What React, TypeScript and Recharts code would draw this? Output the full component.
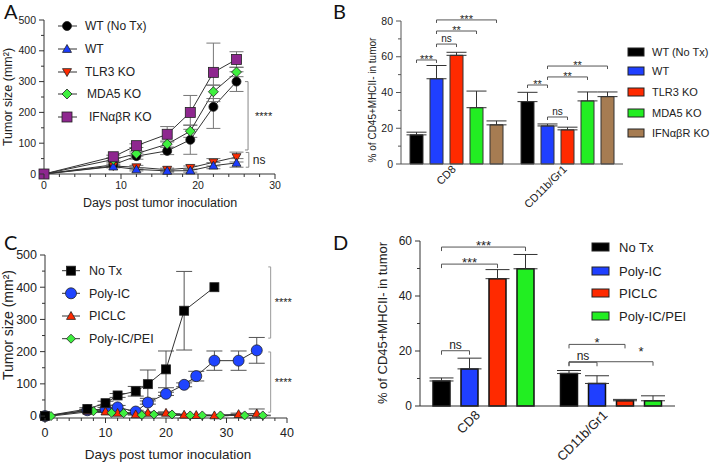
import React from "react";
import { LineChart, Line, BarChart, Bar, XAxis, YAxis, ErrorBar, ReferenceLine } from "recharts";

const FONT = "'Liberation Sans', Arial, Helvetica, sans-serif";
const LETTER_FONT = "Lato, 'Liberation Sans', sans-serif";

// ---- A: tumor growth by genotype
const A_NAMES = ["WT (No Tx)", "WT", "TLR3 KO", "MDA5 KO", "IFNαβR KO"];
const A_DAYS = [0, 9, 12, 16, 19, 22, 25];
const A_WT_NOTX = [0, 30, 58, 75, 111, 218, 300];
const A_WT_NOTX_ERR = [0, 6, 10, 12, 47, 70, 32];
const A_WT = [0, 24, 15, 10, 11, 27, 36];
const A_WT_ERR = [0, 4, 5, 4, 5, 10, 14];
const A_TLR3 = [0, 26, 22, 14, 20, 38, 55];
const A_TLR3_ERR = [0, 4, 6, 5, 6, 12, 16];
const A_MDA5 = [0, 47, 66, 97, 139, 267, 331];
const A_MDA5_ERR = [0, 5, 8, 10, 20, 22, 15];
const A_IFN = [0, 56, 92, 129, 200, 330, 372];
const A_IFN_ERR = [0, 5, 6, 25, 55, 95, 25];
const A_X_TICKS = [0, 10, 20, 30];
const A_Y_TICKS = [0, 100, 200, 300, 400, 500];

// ---- B: infiltrates by genotype
const B_GROUPS = ["CD8", "CD11b/Gr1"];
const B_NAMES = ["WT (No Tx)", "WT", "TLR3 KO", "MDA5 KO", "IFNαβR KO"];
const B_WT_NOTX = [16.3, 34.9];
const B_WT_NOTX_ERR = [1.5, 5.2];
const B_WT = [47.7, 21.3];
const B_WT_ERR = [7.4, 1.1];
const B_TLR3 = [60.8, 19.1];
const B_TLR3_ERR = [1.7, 1.5];
const B_MDA5 = [31.5, 35.3];
const B_MDA5_ERR = [9.3, 5.0];
const B_IFN = [21.9, 37.7];
const B_IFN_ERR = [2.2, 2.6];
const B_Y_TICKS = [0, 20, 40, 60, 80];

// ---- C: tumor growth by treatment
const C_NAMES = ["No Tx", "Poly-IC", "PICLC", "Poly-IC/PEI"];
const C_NOTX_DAYS = [0, 7, 10, 12, 15, 17, 20, 23, 28];
const C_NOTX = [0, 22, 40, 64, 77, 99, 145, 327, 400];
const C_NOTX_ERR = [0, 4, 6, 6, 15, 44, 57, 122, 0];
const C_POLY_DAYS = [0, 7, 10, 12, 15, 17, 20, 23, 25, 28, 32, 35];
const C_POLY = [0, 18, 22, 27, 14, 42, 69, 97, 124, 172, 172, 204];
const C_POLY_ERR = [0, 3, 5, 6, 4, 5, 5, 6, 15, 30, 30, 40];
const C_PICLC_DAYS = [0, 7, 10, 12, 15, 17, 20, 23, 25, 28, 32, 35];
const C_PICLC = [0, 16, 14, 10, 5, 10, 10, 4, 3, 2, 6, 8];
const C_PICLC_ERR = [0, 3, 3, 3, 2, 3, 3, 2, 1, 1, 3, 14];
const C_PEI_DAYS = [1, 8, 11, 13, 16, 18, 21, 24, 26, 29, 33, 36];
const C_PEI = [0, 15, 10, 9, 3, 5, 5, 2, 2, 2, 2, 2];
const C_PEI_ERR = [0, 3, 3, 2, 1, 2, 2, 1, 1, 1, 1, 1];
const C_X_TICKS = [0, 10, 20, 30, 40];
const C_Y_TICKS = [0, 100, 200, 300, 400, 500];

// ---- D: infiltrates by treatment
const D_GROUPS = ["CD8", "CD11b/Gr1"];
const D_NAMES = ["No Tx", "Poly-IC", "PICLC", "Poly-IC/PEI"];
const D_NOTX = [9.1, 11.8];
const D_NOTX_ERR = [1.1, 1.1];
const D_POLY = [13.5, 8.2];
const D_POLY_ERR = [3.9, 2.8];
const D_PICLC = [46.3, 1.9];
const D_PICLC_ERR = [3.3, 0.5];
const D_PEI = [49.9, 1.9];
const D_PEI_ERR = [5.2, 1.8];
const D_Y_TICKS = [0, 20, 40, 60];

// significance annotations
const A_BRACKETS = [
  { x: 26.5, y1: 300, y2: 78, label: "****", offset: 7, size: 11 },
  { x: 26.6, y1: 70, y2: 22, label: "ns", offset: 4, size: 12 },
];
const C_BRACKETS = [
  { x: 37.3, y1: 463, y2: 242, label: "****", offset: 4, size: 11 },
  { x: 37.3, y1: 199, y2: 12, label: "****", offset: 4, size: 11 },
];
const B_BRACKETS = [
  { g: 0, from: 0, to: 1, level: 58.2, label: "***" },
  { g: 0, from: 1, to: 2, level: 67.1, label: "ns" },
  { g: 0, from: 1, to: 3, level: 74.4, label: "**" },
  { g: 0, from: 1, to: 4, level: 80.6, label: "***" },
  { g: 1, from: 0, to: 1, level: 44.2, label: "**" },
  { g: 1, from: 1, to: 2, level: 26.3, label: "ns" },
  { g: 1, from: 1, to: 3, level: 48.7, label: "**" },
  { g: 1, from: 1, to: 4, level: 54.8, label: "**" },
];
const D_BRACKETS = [
  { g: 0, from: 0, to: 2, level: 51.6, label: "***" },
  { g: 0, from: 0, to: 3, level: 57.8, label: "***" },
  { g: 0, from: 0, to: 1, level: 20.1, label: "ns" },
  { g: 1, from: 0, to: 2, level: 22.4, label: "*" },
  { g: 1, from: 0, to: 1, level: 15.9, label: "ns" },
  { g: 1, from: 0, to: 3, level: 16.1, label: "*", dx: 30, dy: -9 },
];

const AXIS = "#333";
const TXT = "#222";

const range = (a: number, b: number, step: number) => {
  const out: number[] = [];
  for (let v = a; v <= b + 1e-9; v += step) out.push(Math.round(v * 100) / 100);
  return out;
};
const pts = (xs: number[], ys: number[], es: number[]) => xs.map((x, i) => ({ x, y: ys[i], e: es[i] }));

function Marker({ shape, cx, cy, size, fill }: any) {
  const s = size / 2;
  const common = { fill, stroke: "#222", strokeWidth: 0.8 };
  if (shape === "circle") return <circle cx={cx} cy={cy} r={s} {...common} />;
  if (shape === "square") return <rect x={cx - s} y={cy - s} width={size} height={size} {...common} />;
  if (shape === "up")
    return <polygon points={`${cx},${cy - s} ${cx + s},${cy + s * 0.75} ${cx - s},${cy + s * 0.75}`} {...common} />;
  if (shape === "down")
    return <polygon points={`${cx - s},${cy - s * 0.75} ${cx + s},${cy - s * 0.75} ${cx},${cy + s}`} {...common} />;
  return <polygon points={`${cx},${cy - s} ${cx + s},${cy} ${cx},${cy + s} ${cx - s},${cy}`} {...common} />;
}

const dotFn = (st: any) => (p: any) => {
  if (p.cx == null || p.cy == null) return <g key={`n${p.index}`} />;
  return <Marker key={`d${p.index}`} shape={st.shape} cx={p.cx} cy={p.cy} size={st.size} fill={st.color} />;
};

const xTick = (majors: number[], fs: number, gap: number, color: string) => (p: any) => {
  const v = p.payload.value;
  const major = majors.includes(v);
  const len = major ? 5 : 3;
  return (
    <g>
      <line x1={p.x} x2={p.x} y1={p.y} y2={p.y + len} stroke={color} strokeWidth={1} />
      {major && (
        <text x={p.x} y={p.y + gap} dy="0.71em" textAnchor="middle" fontSize={fs} fill={TXT} fontFamily={FONT}>
          {v}
        </text>
      )}
    </g>
  );
};

const yTick = (majors: number[], fs: number, color: string) => (p: any) => {
  const v = p.payload.value;
  const major = majors.includes(v);
  const len = major ? 5 : 3;
  return (
    <g>
      <line x1={p.x - len} x2={p.x} y1={p.y} y2={p.y} stroke={color} strokeWidth={1} />
      {major && (
        <text x={p.x - 8} y={p.y} dy="0.35em" textAnchor="end" fontSize={fs} fill={TXT} fontFamily={FONT}>
          {v}
        </text>
      )}
    </g>
  );
};

const catTick = (fs: number, dx: number, dy: number) => (p: any) => (
  <text
    transform={`translate(${p.x + dx},${p.y + dy}) rotate(-45)`}
    textAnchor="end"
    fontSize={fs}
    fill={TXT}
    fontFamily={FONT}
  >
    {p.payload.value}
  </text>
);

function bracketRefs(list: any[], color: string) {
  return list.flatMap((b, i) => [
    <ReferenceLine
      key={`v${i}`}
      segment={[{ x: b.x, y: b.y1 }, { x: b.x, y: b.y2 }]}
      stroke={color}
      strokeWidth={1}
      label={{ value: b.label, position: "right", offset: b.offset, fontSize: b.size, fill: TXT, fontFamily: FONT }}
    />,
    <ReferenceLine key={`t${i}`} segment={[{ x: b.x - 0.4, y: b.y1 }, { x: b.x, y: b.y1 }]} stroke={color} />,
    <ReferenceLine key={`b${i}`} segment={[{ x: b.x - 0.4, y: b.y2 }, { x: b.x, y: b.y2 }]} stroke={color} />,
  ]);
}

// ---------- Panel A
const A_STYLE = [
  { color: "#000000", shape: "circle", size: 9 },
  { color: "#1b3cff", shape: "up", size: 9 },
  { color: "#ff2a00", shape: "down", size: 9 },
  { color: "#3ef03e", shape: "diamond", size: 10 },
  { color: "#8e278f", shape: "square", size: 10 },
];
const A_SERIES = [A_WT_NOTX, A_WT, A_TLR3, A_MDA5, A_IFN];
const A_ERRS = [A_WT_NOTX_ERR, A_WT_ERR, A_TLR3_ERR, A_MDA5_ERR, A_IFN_ERR];
const A_ORDER = [0, 2, 1, 3, 4];

function PanelA() {
  const W = 360, H = 230;
  const legY = [26, 49, 72, 94, 117];
  const legX = [85, 85, 85, 87, 89];
  return (
    <div style={{ position: "absolute", left: 0, top: 0, width: W, height: H }}>
      <LineChart width={W} height={H} margin={{ top: 20, right: 85, bottom: 36, left: 4 }}>
        <XAxis
          type="number"
          dataKey="x"
          domain={[0, 30]}
          ticks={range(0, 30, 2)}
          interval={0}
          tickSize={0}
          tickMargin={0}
          tickLine={false}
          tick={xTick(A_X_TICKS, 10.5, 8, AXIS)}
          height={20}
          stroke={AXIS}
        />
        <YAxis
          type="number"
          domain={[0, 500]}
          ticks={range(0, 500, 50)}
          interval={0}
          tickSize={0}
          tickMargin={0}
          tickLine={false}
          tick={yTick(A_Y_TICKS, 10.5, AXIS)}
          width={40}
          stroke={AXIS}
        />
        {bracketRefs(A_BRACKETS, "#888")}
        {A_ORDER.map((i) => (
          <Line
            key={A_NAMES[i]}
            data={pts(A_DAYS, A_SERIES[i], A_ERRS[i])}
            dataKey="y"
            stroke="#333"
            strokeWidth={1}
            dot={dotFn(A_STYLE[i])}
            activeDot={false}
            isAnimationActive={false}
          >
            <ErrorBar dataKey="e" width={7} stroke="#777" strokeWidth={1} direction="y" />
          </Line>
        ))}
      </LineChart>
      <svg width={W} height={H} style={{ position: "absolute", left: 0, top: 0, pointerEvents: "none" }} fontFamily={FONT}>
        <text transform="translate(12,97) rotate(-90)" textAnchor="middle" fontSize={12.5} fill={TXT}>
          Tumor size (mm²)
        </text>
        <text x={160} y={207} textAnchor="middle" fontSize={12.5} fill={TXT}>
          Days post tumor inoculation
        </text>
        {A_NAMES.map((n, i) => (
          <g key={n}>
            <line x1={58} x2={77} y1={legY[i]} y2={legY[i]} stroke="#333" />
            <Marker shape={A_STYLE[i].shape} cx={67} cy={legY[i]} size={A_STYLE[i].size} fill={A_STYLE[i].color} />
            <text x={legX[i]} y={legY[i]} dy="0.35em" fontSize={12} fill={TXT}>
              {n}
            </text>
          </g>
        ))}
      </svg>
    </div>
  );
}

// ---------- Panel C
const C_STYLE = [
  { color: "#000000", shape: "square", size: 9 },
  { color: "#1f44ff", shape: "circle", size: 11 },
  { color: "#ff2a00", shape: "up", size: 9 },
  { color: "#3ef03e", shape: "diamond", size: 9 },
];
const C_SERIES = [
  pts(C_NOTX_DAYS, C_NOTX, C_NOTX_ERR),
  pts(C_POLY_DAYS, C_POLY, C_POLY_ERR),
  pts(C_PICLC_DAYS, C_PICLC, C_PICLC_ERR),
  pts(C_PEI_DAYS, C_PEI, C_PEI_ERR),
];
const C_ORDER = [1, 2, 3, 0];

function PanelC() {
  const W = 360, H = 233;
  const legY = [40.7, 63.3, 86, 108.7];
  return (
    <div style={{ position: "absolute", left: 0, top: 230, width: W, height: H }}>
      <LineChart width={W} height={H} margin={{ top: 25, right: 73, bottom: 25, left: 5 }}>
        <XAxis
          type="number"
          dataKey="x"
          domain={[0, 40]}
          ticks={range(0, 40, 2)}
          interval={0}
          tickSize={0}
          tickMargin={0}
          tickLine={false}
          tick={xTick(C_X_TICKS, 12.5, 10, AXIS)}
          height={20}
          stroke={AXIS}
        />
        <YAxis
          type="number"
          domain={[0, 500]}
          ticks={range(0, 500, 50)}
          interval={0}
          tickSize={0}
          tickMargin={0}
          tickLine={false}
          tick={yTick(C_Y_TICKS, 12.5, AXIS)}
          width={40}
          stroke={AXIS}
        />
        {bracketRefs(C_BRACKETS, "#999")}
        {C_ORDER.map((i) => (
          <Line
            key={C_NAMES[i]}
            data={C_SERIES[i]}
            dataKey="y"
            stroke="#333"
            strokeWidth={1}
            dot={dotFn(C_STYLE[i])}
            activeDot={false}
            isAnimationActive={false}
          >
            <ErrorBar dataKey="e" width={8} stroke="#555" strokeWidth={1} direction="y" />
          </Line>
        ))}
      </LineChart>
      <svg width={W} height={H} style={{ position: "absolute", left: 0, top: 0, pointerEvents: "none" }} fontFamily={FONT}>
        <text transform="translate(13,95) rotate(-90)" textAnchor="middle" fontSize={14} fill={TXT}>
          Tumor size (mm²)
        </text>
        <text x={168} y={229} textAnchor="middle" fontSize={13.5} fill={TXT}>
          Days post tumor inoculation
        </text>
        {C_NAMES.map((n, i) => (
          <g key={n}>
            <line x1={62} x2={80} y1={legY[i]} y2={legY[i]} stroke="#333" />
            <Marker shape={C_STYLE[i].shape} cx={71} cy={legY[i]} size={C_STYLE[i].size} fill={C_STYLE[i].color} />
            <text x={89} y={legY[i]} dy="0.35em" fontSize={12.5} fill={TXT}>
              {n}
            </text>
          </g>
        ))}
      </svg>
    </div>
  );
}

// ---------- grouped bars (B, D)
function barRows(groups: string[], series: number[][], errs: number[][]) {
  return groups.map((g, gi) => {
    const row: any = { g };
    series.forEach((s, si) => {
      row["v" + si] = s[gi];
      row["e" + si] = [0, errs[si][gi]];
    });
    return row;
  });
}

function BarPanel(props: any) {
  const { W, H, left, top, plot, yMax, yStep, majors, groups, names, series, errs, colors, barSize, barGap,
    brackets, tickFs, labelFs, bracketFs, tick, yLabel, legend, catDx, catDy, catFs, axisColor, barStroke, capW } = props;
  const plotW = W - plot.left - plot.right;
  const plotH = H - plot.top - plot.bottom;
  const band = plotW / groups.length;
  const sum = names.length * barSize + (names.length - 1) * barGap;
  const off = Math.floor((band - sum) / 2);
  const cx = (g: number, i: number) => plot.left + g * band + off + i * (barSize + barGap) + barSize / 2;
  const cy = (v: number) => plot.top + plotH * (1 - v / yMax);
  const rows = barRows(groups, series, errs);
  return (
    <div style={{ position: "absolute", left, top, width: W, height: H }}>
      <BarChart
        width={W}
        height={H}
        data={rows}
        barGap={barGap}
        margin={{ top: plot.top, right: plot.right, bottom: plot.bottom - 20, left: plot.left - 36 }}
      >
        <XAxis
          dataKey="g"
          type="category"
          interval={0}
          tickSize={0}
          tickMargin={0}
          tickLine={false}
          tick={catTick(catFs, catDx, catDy)}
          height={20}
          stroke={axisColor}
        />
        <YAxis
          type="number"
          domain={[0, yMax]}
          ticks={range(0, yMax, yStep)}
          interval={0}
          tickSize={0}
          tickMargin={0}
          tickLine={false}
          tick={yTick(majors, tickFs, axisColor)}
          width={36}
          stroke={axisColor}
        />
        {names.map((n: string, si: number) => (
          <Bar
            key={n}
            dataKey={"v" + si}
            fill={colors[si]}
            stroke={barStroke.color}
            strokeWidth={barStroke.width}
            barSize={barSize}
            isAnimationActive={false}
          >
            <ErrorBar dataKey={"e" + si} width={capW} stroke="#333" strokeWidth={1} direction="y" />
          </Bar>
        ))}
      </BarChart>
      <svg width={W} height={H} style={{ position: "absolute", left: 0, top: 0, pointerEvents: "none", overflow: "visible" }} fontFamily={FONT}>
        <text transform={`translate(${yLabel.x},${yLabel.y}) rotate(-90)`} textAnchor="middle" fontSize={labelFs} fill={TXT}>
          % of CD45+MHCII- in tumor
        </text>
        {brackets.map((b: any, i: number) => {
          const x1 = cx(b.g, b.from);
          const x2 = cx(b.g, b.to);
          const y = cy(b.level);
          const star = b.label !== "ns";
          return (
            <g key={i}>
              <path d={`M${x1},${y + tick} L${x1},${y} L${x2},${y} L${x2},${y + tick}`} fill="none" stroke="#555" strokeWidth={1} />
              <text
                x={(x1 + x2) / 2 + (b.dx || 0)}
                y={y + (star ? 3 : -2) + (b.dy || 0)}
                textAnchor="middle"
                fontSize={star ? bracketFs + 1 : bracketFs}
                fill={TXT}
              >
                {b.label}
              </text>
            </g>
          );
        })}
        {names.map((n: string, i: number) => (
          <g key={n}>
            <rect x={legend.x} y={legend.ys[i] - legend.h / 2} width={legend.w} height={legend.h} fill={colors[i]} stroke="#222" strokeWidth={1} />
            <text x={legend.tx} y={legend.ys[i]} dy="0.35em" fontSize={legend.fs} fill={TXT}>
              {n}
            </text>
          </g>
        ))}
      </svg>
    </div>
  );
}

export default function App() {
  return (
    <div style={{ position: "absolute", left: 0, top: 0, width: 713, height: 463, background: "#fff", fontFamily: FONT, overflow: "hidden" }}>
      <PanelA />
      <BarPanel
        W={353}
        H={230}
        left={360}
        top={0}
        plot={{ left: 41, right: 90, top: 21, bottom: 66 }}
        yMax={80}
        yStep={10}
        majors={B_Y_TICKS}
        groups={B_GROUPS}
        names={B_NAMES}
        series={[B_WT_NOTX, B_WT, B_TLR3, B_MDA5, B_IFN]}
        errs={[B_WT_NOTX_ERR, B_WT_ERR, B_TLR3_ERR, B_MDA5_ERR, B_IFN_ERR]}
        colors={["#000000", "#1f3fff", "#ff2a00", "#22ee22", "#a67c52"]}
        barSize={13}
        barGap={7}
        brackets={B_BRACKETS}
        tickFs={10.5}
        labelFs={10}
        bracketFs={10}
        tick={3}
        yLabel={{ x: 16, y: 100 }}
        legend={{ x: 268, w: 16, h: 8, tx: 292, fs: 11, ys: [52, 71, 92, 113, 133] }}
        catDx={0}
        catDy={6}
        catFs={11}
        axisColor="#555"
        barStroke={{ color: "#333", width: 1 }}
        capW={10}
      />
      <PanelC />
      <BarPanel
        W={353}
        H={233}
        left={360}
        top={230}
        plot={{ left: 60, right: 38, top: 11, bottom: 57 }}
        yMax={60}
        yStep={10}
        majors={D_Y_TICKS}
        groups={D_GROUPS}
        names={D_NAMES}
        series={[D_NOTX, D_POLY, D_PICLC, D_PEI]}
        errs={[D_NOTX_ERR, D_POLY_ERR, D_PICLC_ERR, D_PEI_ERR]}
        colors={["#000000", "#1f3fff", "#ff2a00", "#22ee22"]}
        barSize={17}
        barGap={11}
        brackets={D_BRACKETS}
        tickFs={12}
        labelFs={13}
        bracketFs={12}
        tick={4}
        yLabel={{ x: 27, y: 93 }}
        legend={{ x: 232, w: 17, h: 8, tx: 259, fs: 13, ys: [17, 41, 63, 86] }}
        catDx={-3}
        catDy={10}
        catFs={13}
        axisColor="#333"
        barStroke={{ color: "#111", width: 1.5 }}
        capW={12}
      />
      <svg width={713} height={463} style={{ position: "absolute", left: 0, top: 0, pointerEvents: "none" }} fontFamily={LETTER_FONT}>
        <text x={4} y={19} fontSize={20} fill="#111">A</text>
        <text x={333} y={19} fontSize={20} fill="#111">B</text>
        <text x={4} y={250} fontSize={20} fill="#111">C</text>
        <text x={333} y={250} fontSize={20} fill="#111">D</text>
      </svg>
    </div>
  );
}
